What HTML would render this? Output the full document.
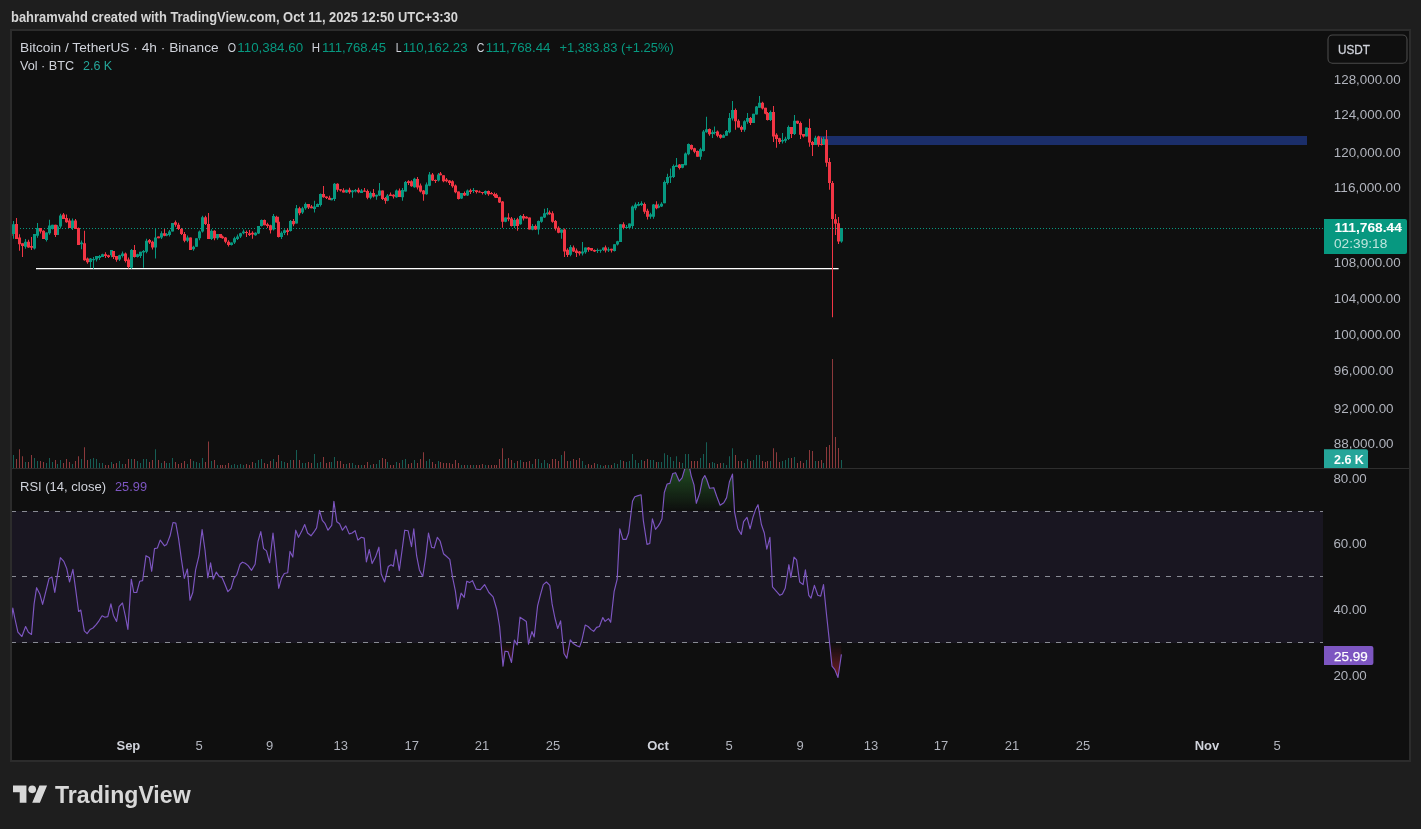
<!DOCTYPE html>
<html><head><meta charset="utf-8"><title>BTCUSDT chart</title>
<style>html,body{margin:0;padding:0;background:#1e1e1e;}svg{display:block}body{width:1421px;height:829px;overflow:hidden;font-family:"Liberation Sans",sans-serif;}</style></head>
<body>
<svg width="1421" height="829" viewBox="0 0 1421 829" font-family="'Liberation Sans', sans-serif">
<defs><linearGradient id="gob" x1="0" y1="468" x2="0" y2="511.5" gradientUnits="userSpaceOnUse"><stop offset="0" stop-color="#2e7d32" stop-opacity="0.55"/><stop offset="1" stop-color="#2e7d32" stop-opacity="0"/></linearGradient><linearGradient id="gos" x1="0" y1="642.5" x2="0" y2="680" gradientUnits="userSpaceOnUse"><stop offset="0" stop-color="#b22833" stop-opacity="0"/><stop offset="1" stop-color="#d32f3f" stop-opacity="0.6"/></linearGradient><clipPath id="cob"><rect x="11" y="469" width="1312" height="42.5"/></clipPath><clipPath id="cos"><rect x="11" y="642.5" width="1312" height="80"/></clipPath><clipPath id="cmain"><rect x="12" y="31" width="1312" height="437"/></clipPath><clipPath id="crsi"><rect x="12" y="469" width="1311" height="260"/></clipPath></defs>
<rect width="1421" height="829" fill="#1e1e1e"/>
<rect x="11" y="30" width="1399" height="731" fill="#0f0f0f" stroke="#2c2c2c" stroke-width="2"/>
<rect x="12" y="468" width="1397" height="1" fill="#2e2e2e"/>
<g opacity="0.999">
<text x="11" y="22" font-size="14" fill="#d6d6d6" textLength="447" lengthAdjust="spacingAndGlyphs" font-weight="bold">bahramvahd created with TradingView.com, Oct 11, 2025 12:50 UTC+3:30</text>
<g clip-path="url(#cmain)">
<rect x="818" y="136" width="489" height="9" fill="#1c2f6b"/>
<line x1="11" y1="228.5" x2="1324" y2="228.5" stroke="#089981" stroke-width="1" stroke-dasharray="1 2"/>
<path d="M13 455.1h1V468h-1zM25 462.1h1V468h-1zM34 458.1h1V468h-1zM37 461.1h1V468h-1zM46 463h1V468h-1zM49 458.1h1V468h-1zM52 462.1h1V468h-1zM57 464h1V468h-1zM60 460h1V468h-1zM72 464h1V468h-1zM81 459.1h1V468h-1zM90 459.1h1V468h-1zM93 458.1h1V468h-1zM96 459.1h1V468h-1zM99 463h1V468h-1zM102 463h1V468h-1zM111 462.1h1V468h-1zM119 461.1h1V468h-1zM122 464h1V468h-1zM131 459.1h1V468h-1zM137 461.1h1V468h-1zM140 463h1V468h-1zM143 459.1h1V468h-1zM146 459.1h1V468h-1zM155 449.2h1V468h-1zM161 463h1V468h-1zM166 463h1V468h-1zM169 463h1V468h-1zM172 458.1h1V468h-1zM187 464h1V468h-1zM193 461.1h1V468h-1zM196 462.1h1V468h-1zM199 463h1V468h-1zM202 458.1h1V468h-1zM211 461.1h1V468h-1zM217 465h1V468h-1zM231 465h1V468h-1zM234 464h1V468h-1zM237 465h1V468h-1zM240 464h1V468h-1zM243 465h1V468h-1zM255 463h1V468h-1zM258 460h1V468h-1zM261 459.1h1V468h-1zM273 459.1h1V468h-1zM281 461.1h1V468h-1zM284 462.1h1V468h-1zM290 460h1V468h-1zM296 450h1V468h-1zM302 463h1V468h-1zM305 463h1V468h-1zM314 454.1h1V468h-1zM317 463h1V468h-1zM320 462.1h1V468h-1zM331 462.1h1V468h-1zM334 457.1h1V468h-1zM346 464h1V468h-1zM352 463h1V468h-1zM355 465h1V468h-1zM361 465h1V468h-1zM370 465h1V468h-1zM376 464h1V468h-1zM379 460h1V468h-1zM387 462.1h1V468h-1zM396 462.1h1V468h-1zM402 460h1V468h-1zM405 459.1h1V468h-1zM414 460h1V468h-1zM426 461.1h1V468h-1zM429 459.1h1V468h-1zM438 461.1h1V468h-1zM461 465h1V468h-1zM467 465h1V468h-1zM473 465h1V468h-1zM485 465h1V468h-1zM505 459.1h1V468h-1zM514 463h1V468h-1zM520 460h1V468h-1zM532 464h1V468h-1zM538 459.1h1V468h-1zM541 463h1V468h-1zM544 460h1V468h-1zM547 463h1V468h-1zM561 455.1h1V468h-1zM570 461.1h1V468h-1zM582 461.1h1V468h-1zM585 465h1V468h-1zM597 464h1V468h-1zM600 465h1V468h-1zM603 465.9h1V468h-1zM608 465h1V468h-1zM614 463h1V468h-1zM617 464h1V468h-1zM620 460h1V468h-1zM626 462.1h1V468h-1zM629 461.1h1V468h-1zM632 454.1h1V468h-1zM635 460h1V468h-1zM638 463h1V468h-1zM641 460h1V468h-1zM650 460h1V468h-1zM653 460h1V468h-1zM658 462.1h1V468h-1zM661 462.1h1V468h-1zM664 453.2h1V468h-1zM667 455.1h1V468h-1zM670 457.1h1V468h-1zM673 461.1h1V468h-1zM676 456.2h1V468h-1zM682 463h1V468h-1zM685 454.1h1V468h-1zM688 454.1h1V468h-1zM700 458.1h1V468h-1zM703 454.1h1V468h-1zM706 442.3h1V468h-1zM712 462.1h1V468h-1zM714 463h1V468h-1zM723 463h1V468h-1zM726 465h1V468h-1zM729 456.2h1V468h-1zM732 448.2h1V468h-1zM744 463h1V468h-1zM747 459.1h1V468h-1zM753 460h1V468h-1zM756 455.1h1V468h-1zM759 455.1h1V468h-1zM770 461.1h1V468h-1zM782 461.1h1V468h-1zM785 460h1V468h-1zM788 458.1h1V468h-1zM794 457.1h1V468h-1zM806 460h1V468h-1zM815 461h1V468h-1zM823 463h1V468h-1zM841 460h1V468h-1z" fill="#175e55"/>
<path d="M10 461.2h1V468h-1zM16 459.1h1V468h-1zM19 449.2h1V468h-1zM22 456.2h1V468h-1zM28 462.1h1V468h-1zM31 455.1h1V468h-1zM40 461.1h1V468h-1zM43 462.1h1V468h-1zM55 460h1V468h-1zM63 463h1V468h-1zM66 459.1h1V468h-1zM69 462.1h1V468h-1zM75 461.1h1V468h-1zM78 456.2h1V468h-1zM84 447.3h1V468h-1zM87 460h1V468h-1zM105 465h1V468h-1zM108 465h1V468h-1zM113 464h1V468h-1zM116 463h1V468h-1zM125 464h1V468h-1zM128 459.1h1V468h-1zM134 459.1h1V468h-1zM149 462.1h1V468h-1zM152 460h1V468h-1zM158 460h1V468h-1zM164 461.1h1V468h-1zM175 462.1h1V468h-1zM178 464h1V468h-1zM181 463h1V468h-1zM184 461.1h1V468h-1zM190 459.1h1V468h-1zM205 462.1h1V468h-1zM208 441.4h1V468h-1zM214 460h1V468h-1zM220 465h1V468h-1zM222 465h1V468h-1zM225 465h1V468h-1zM228 463h1V468h-1zM246 464h1V468h-1zM249 465h1V468h-1zM252 462.1h1V468h-1zM264 463h1V468h-1zM267 464h1V468h-1zM270 461.1h1V468h-1zM276 462.1h1V468h-1zM278 455.1h1V468h-1zM287 463h1V468h-1zM293 460h1V468h-1zM299 460h1V468h-1zM308 462.1h1V468h-1zM311 463h1V468h-1zM323 457.1h1V468h-1zM326 463h1V468h-1zM329 462.1h1V468h-1zM337 461.1h1V468h-1zM340 461.1h1V468h-1zM343 464h1V468h-1zM349 463h1V468h-1zM358 465h1V468h-1zM364 465h1V468h-1zM367 462.1h1V468h-1zM373 464h1V468h-1zM382 458.1h1V468h-1zM385 459.1h1V468h-1zM390 465h1V468h-1zM393 465h1V468h-1zM399 463h1V468h-1zM408 464h1V468h-1zM411 463h1V468h-1zM417 463h1V468h-1zM420 459.1h1V468h-1zM423 452.2h1V468h-1zM432 462.1h1V468h-1zM435 464h1V468h-1zM440 462.1h1V468h-1zM443 463h1V468h-1zM446 463h1V468h-1zM449 463h1V468h-1zM452 464h1V468h-1zM455 460h1V468h-1zM458 463h1V468h-1zM464 465h1V468h-1zM470 465h1V468h-1zM476 465h1V468h-1zM479 465h1V468h-1zM482 464h1V468h-1zM488 465h1V468h-1zM491 465h1V468h-1zM494 465h1V468h-1zM496 465h1V468h-1zM499 459.1h1V468h-1zM502 448.2h1V468h-1zM508 458.1h1V468h-1zM511 460h1V468h-1zM517 461.1h1V468h-1zM523 462.1h1V468h-1zM526 462.1h1V468h-1zM529 461.1h1V468h-1zM535 459.1h1V468h-1zM549 464h1V468h-1zM552 459.1h1V468h-1zM555 459.1h1V468h-1zM558 461.1h1V468h-1zM564 451.2h1V468h-1zM567 461.1h1V468h-1zM573 459.1h1V468h-1zM576 460h1V468h-1zM579 458.1h1V468h-1zM588 464h1V468h-1zM591 465h1V468h-1zM594 463h1V468h-1zM605 465h1V468h-1zM611 465h1V468h-1zM623 461.1h1V468h-1zM644 461.1h1V468h-1zM647 459.1h1V468h-1zM656 462.1h1V468h-1zM679 462.1h1V468h-1zM691 461.1h1V468h-1zM694 461.1h1V468h-1zM697 461.1h1V468h-1zM709 463h1V468h-1zM717 464h1V468h-1zM720 463h1V468h-1zM735 455.1h1V468h-1zM738 461.1h1V468h-1zM741 461.1h1V468h-1zM750 461.1h1V468h-1zM762 461.1h1V468h-1zM765 462.1h1V468h-1zM767 461.1h1V468h-1zM773 448.2h1V468h-1zM776 452.2h1V468h-1zM779 462.1h1V468h-1zM791 458.1h1V468h-1zM797 463h1V468h-1zM800 461.1h1V468h-1zM803 463h1V468h-1zM809 450h1V468h-1zM812 451h1V468h-1zM818 461h1V468h-1zM821 460h1V468h-1zM826 447h1V468h-1zM829 445h1V468h-1zM832 359h1V468h-1zM835 437h1V468h-1zM838 448h1V468h-1z" fill="#8c3a3c"/>
<rect x="12" y="230.5" width="1" height="3.7" fill="#a52a35"/><rect x="12" y="227" width="0.6" height="9" fill="#a52a35"/>
<rect x="36" y="268" width="802.6" height="1.3" fill="#ffffff"/>
<path d="M13 220.9h1V238.8h-1zM25 239.1h1V248.7h-1zM34 234.1h1V249.4h-1zM37 223.1h1V237.7h-1zM46 232.4h1V241.5h-1zM49 219.7h1V234.7h-1zM52 224.8h1V229.5h-1zM57 225h1V234.9h-1zM60 213.8h1V228.5h-1zM72 218.5h1V230.1h-1zM81 240.5h1V249.3h-1zM90 258h1V267.8h-1zM93 257.1h1V268.7h-1zM96 256h1V261.4h-1zM99 255h1V260h-1zM102 253.8h1V256.9h-1zM111 250.1h1V257.2h-1zM119 254.7h1V260.9h-1zM122 251.5h1V257.5h-1zM131 249.1h1V268.8h-1zM137 253.8h1V257.4h-1zM140 251.8h1V258h-1zM143 249.9h1V267.8h-1zM146 238.8h1V253.3h-1zM155 228.1h1V258.5h-1zM161 231.2h1V238.9h-1zM166 233.1h1V236.2h-1zM169 230h1V236.4h-1zM172 223.1h1V231.5h-1zM187 235.4h1V242.3h-1zM193 245.7h1V250.8h-1zM196 238.3h1V246.7h-1zM199 230.5h1V240.3h-1zM202 215.7h1V232.5h-1zM211 229.2h1V240.1h-1zM217 234.1h1V239.8h-1zM231 242.5h1V245.5h-1zM234 236.8h1V244h-1zM237 234.6h1V240.1h-1zM240 232.7h1V238.1h-1zM243 229.5h1V234.2h-1zM255 232.3h1V235.8h-1zM258 226h1V234.1h-1zM261 219.6h1V226.5h-1zM273 213.9h1V230.4h-1zM281 231.3h1V239h-1zM284 229.2h1V235.1h-1zM290 219.9h1V231.6h-1zM296 204.9h1V223.5h-1zM302 206.8h1V214h-1zM305 202.6h1V209.8h-1zM314 200.7h1V212.5h-1zM317 203.6h1V206.9h-1zM320 193.4h1V206.4h-1zM331 198.1h1V200.2h-1zM334 182.9h1V201h-1zM346 189.7h1V193.1h-1zM352 190h1V197.8h-1zM355 189h1V192.4h-1zM361 189h1V193.1h-1zM370 191.6h1V199.3h-1zM376 194.8h1V199.8h-1zM379 182.9h1V196.1h-1zM387 194.1h1V201.2h-1zM396 189.5h1V197.8h-1zM402 188h1V200.7h-1zM405 181.1h1V191.4h-1zM414 177.7h1V187.7h-1zM426 182.6h1V194.8h-1zM429 172h1V186.3h-1zM438 173h1V181.4h-1zM461 193.1h1V199.1h-1zM467 189.5h1V196.1h-1zM473 188h1V193h-1zM485 190.4h1V195.1h-1zM505 217.6h1V222.3h-1zM514 218.1h1V228h-1zM520 214.9h1V224.8h-1zM532 224h1V230.2h-1zM538 220.4h1V234.5h-1zM541 216.7h1V222.8h-1zM544 208.8h1V218.1h-1zM547 207.9h1V215.2h-1zM561 229.4h1V238.7h-1zM570 245.1h1V256.2h-1zM582 242.1h1V255.4h-1zM585 247.6h1V253.7h-1zM597 248.5h1V253h-1zM600 249.7h1V252.8h-1zM603 247.6h1V251h-1zM608 247.3h1V252h-1zM614 244.3h1V251.5h-1zM617 240.7h1V245.6h-1zM620 224.3h1V242.1h-1zM626 224.9h1V228h-1zM629 223.5h1V229.2h-1zM632 205.6h1V228h-1zM635 202.4h1V210.3h-1zM638 202.1h1V206.2h-1zM641 201.2h1V205.9h-1zM650 212.7h1V218.7h-1zM653 203.9h1V218.7h-1zM658 203.7h1V208.3h-1zM661 202.2h1V207.1h-1zM664 180.6h1V203.2h-1zM667 173.7h1V184.5h-1zM670 168.6h1V183h-1zM673 164.6h1V178.1h-1zM676 158h1V166.9h-1zM682 164.1h1V168.3h-1zM685 152.4h1V165.2h-1zM688 143.6h1V155.3h-1zM700 147.7h1V159.8h-1zM703 130h1V151.4h-1zM706 116.8h1V132.8h-1zM712 130.3h1V137.9h-1zM714 126.4h1V134.5h-1zM723 134.2h1V137.7h-1zM726 130.1h1V135.7h-1zM729 112.9h1V133.3h-1zM732 101h1V120.4h-1zM744 120.3h1V131.8h-1zM747 112.9h1V123.8h-1zM753 113.7h1V123h-1zM756 106.1h1V114.6h-1zM759 96h1V107.8h-1zM770 110.5h1V121h-1zM782 133.1h1V143.6h-1zM785 136.7h1V142.8h-1zM788 125.4h1V140.1h-1zM794 115.1h1V135h-1zM806 127.6h1V136.5h-1zM815 135.7h1V145h-1zM823 137h1V144.8h-1zM841 228h1V242.8h-1z" fill="#089981"/>
<path d="M10 224.6h1V236.2h-1zM16 218h1V239.1h-1zM19 234.2h1V250.8h-1zM22 243.3h1V256.9h-1zM28 239.8h1V247.7h-1zM31 236.9h1V250.1h-1zM40 228.1h1V233.5h-1zM43 230.2h1V239.1h-1zM55 224.8h1V236.9h-1zM63 212.9h1V218.9h-1zM66 214.6h1V222.7h-1zM69 218.5h1V228.1h-1zM75 219h1V229h-1zM78 227.6h1V245h-1zM84 230.7h1V260.7h-1zM87 257.5h1V263.8h-1zM105 252.3h1V258h-1zM108 254.7h1V257.9h-1zM113 250.9h1V258.9h-1zM116 256h1V261.7h-1zM125 252.5h1V262.6h-1zM128 257.4h1V268.5h-1zM134 245h1V257.4h-1zM149 239h1V244h-1zM152 240.7h1V249.6h-1zM158 236.6h1V238.3h-1zM164 229h1V236.2h-1zM175 220.5h1V226.8h-1zM178 222.8h1V230h-1zM181 228h1V235.1h-1zM184 232.1h1V242.3h-1zM190 237.4h1V250.1h-1zM205 215.7h1V224.9h-1zM208 212.9h1V239.1h-1zM214 230.2h1V240.3h-1zM220 234.1h1V237.9h-1zM222 235.6h1V238.8h-1zM225 236.9h1V243.2h-1zM228 240.2h1V246.5h-1zM246 230.5h1V236.9h-1zM249 230h1V235.9h-1zM252 231.3h1V238.7h-1zM264 219.6h1V225.2h-1zM267 222.8h1V228h-1zM270 224.7h1V233.6h-1zM276 215.7h1V222.6h-1zM278 216.7h1V237.5h-1zM287 228.2h1V235.3h-1zM293 218.9h1V226.3h-1zM299 206.8h1V215.3h-1zM308 204.1h1V208.9h-1zM311 205.1h1V208.3h-1zM323 186h1V197.8h-1zM326 196.5h1V199.1h-1zM329 195.8h1V199.8h-1zM337 183.3h1V191.7h-1zM340 189.2h1V191.5h-1zM343 188.2h1V192.6h-1zM349 187.7h1V193.7h-1zM358 187.7h1V193.2h-1zM364 188h1V191.7h-1zM367 189.5h1V199.3h-1zM373 188.9h1V197.5h-1zM382 190.5h1V200h-1zM385 197.1h1V203.7h-1zM390 192.4h1V195.9h-1zM393 194.3h1V198.5h-1zM399 188.5h1V197h-1zM408 180.2h1V184.9h-1zM411 180.2h1V186.8h-1zM417 177.1h1V189.5h-1zM420 183.5h1V192.4h-1zM423 190h1V200.7h-1zM432 173h1V180.9h-1zM435 179.6h1V183.1h-1zM440 172h1V175.3h-1zM443 175.3h1V182.2h-1zM446 178.1h1V182.2h-1zM449 179.9h1V184.9h-1zM452 180.2h1V187.8h-1zM455 184.5h1V193.2h-1zM458 191.4h1V199.5h-1zM464 191.6h1V196.1h-1zM470 188.7h1V193.9h-1zM476 190.2h1V193.4h-1zM479 190.4h1V192.4h-1zM482 191.9h1V194.4h-1zM488 190.4h1V195.8h-1zM491 192.1h1V194.3h-1zM494 192.4h1V197.4h-1zM496 193.3h1V198.1h-1zM499 196.8h1V202.9h-1zM502 201h1V227.7h-1zM508 213.3h1V221.3h-1zM511 216.9h1V226.5h-1zM517 217.8h1V230.7h-1zM523 213.9h1V220.4h-1zM526 216.2h1V218.4h-1zM529 217.6h1V229.4h-1zM535 224.5h1V229.9h-1zM549 210.5h1V214.7h-1zM552 211.3h1V222.8h-1zM555 219.9h1V230.5h-1zM558 226.2h1V233.3h-1zM564 228.4h1V256.9h-1zM567 248.2h1V257.1h-1zM573 245.6h1V251.9h-1zM576 248.5h1V256.9h-1zM579 250.9h1V255.4h-1zM588 247.1h1V251.7h-1zM591 248h1V251h-1zM594 249.5h1V251.9h-1zM605 245.6h1V252.5h-1zM611 248.8h1V252.5h-1zM623 222.3h1V229.2h-1zM644 202.6h1V213.7h-1zM647 208.8h1V219.6h-1zM656 201.2h1V209.3h-1zM679 163.9h1V169.6h-1zM691 144.5h1V150.2h-1zM694 147.8h1V153.2h-1zM697 150.4h1V156.8h-1zM709 128.4h1V135.8h-1zM717 130.5h1V137.2h-1zM720 134.3h1V138.7h-1zM735 108.5h1V129.8h-1zM738 119.3h1V127.6h-1zM741 125.4h1V132h-1zM750 116.9h1V125h-1zM762 101.7h1V109.6h-1zM765 107.8h1V114.2h-1zM767 111.9h1V120.5h-1zM773 106.1h1V142.1h-1zM776 133.3h1V147.8h-1zM779 137.7h1V143.9h-1zM791 126.9h1V137.9h-1zM797 120.8h1V124h-1zM800 121.5h1V139.1h-1zM803 134h1V137.5h-1zM809 118.8h1V146.7h-1zM812 141.1h1V155.9h-1zM818 135.7h1V146.8h-1zM821 137.4h1V145.5h-1zM826 130h1V166.7h-1zM829 158h1V189.7h-1zM832 181h1V317.3h-1zM835 214h1V235h-1zM838 217h1V244h-1z" fill="#f23645"/>
<path d="M12 224.3h3V233.9h-3zM24 241.7h3V246.7h-3zM33 234.1h3V248.4h-3zM36 228.1h3V235.7h-3zM45 232.4h3V240h-3zM48 225.6h3V233.2h-3zM51 224.8h3V229h-3zM56 226.5h3V234.9h-3zM59 215.5h3V226.5h-3zM71 220.5h3V228.1h-3zM80 242.5h3V244.2h-3zM89 258.5h3V261.9h-3zM92 259.1h3V260.2h-3zM95 256h3V259.4h-3zM98 256h3V258h-3zM101 254.3h3V256.9h-3zM110 250.1h3V255.2h-3zM118 255.2h3V259.4h-3zM121 253.5h3V256h-3zM130 250.1h3V267.8h-3zM136 254.3h3V256.9h-3zM139 251.8h3V256h-3zM142 250.9h3V252.6h-3zM145 240.8h3V251.8h-3zM154 237.4h3V247.6h-3zM160 233.2h3V237.4h-3zM165 234.1h3V235.7h-3zM168 231.5h3V234.9h-3zM171 223.1h3V231.5h-3zM186 237.4h3V240.8h-3zM192 246.7h3V249.3h-3zM195 238.3h3V246.7h-3zM198 231.5h3V238.3h-3zM201 217.2h3V231.5h-3zM210 230.7h3V239.1h-3zM216 234.1h3V238.3h-3zM230 242.5h3V245h-3zM233 238.3h3V242.5h-3zM236 236.6h3V239.1h-3zM239 233.2h3V236.6h-3zM242 231.5h3V233.2h-3zM254 232.8h3V235.3h-3zM257 226h3V233.6h-3zM260 220.1h3V226h-3zM272 215.9h3V229.4h-3zM280 232.8h3V237h-3zM283 230.2h3V233.1h-3zM289 220.9h3V231.1h-3zM295 208.3h3V223.5h-3zM301 208.3h3V212.5h-3zM304 204.1h3V208.3h-3zM313 206.6h3V209.1h-3zM316 204.1h3V206.9h-3zM319 193.9h3V204.9h-3zM330 198.1h3V200.2h-3zM333 183.8h3V199h-3zM345 189.7h3V192.6h-3zM351 190.5h3V192.2h-3zM354 190h3V191.4h-3zM360 190.5h3V193.1h-3zM369 193.1h3V197.8h-3zM375 194.8h3V196.5h-3zM378 190.5h3V195.6h-3zM386 195.6h3V200.7h-3zM395 190.5h3V197.3h-3zM401 190h3V197.3h-3zM404 182.1h3V191.4h-3zM413 178.7h3V187.2h-3zM425 184.6h3V194.3h-3zM428 174.5h3V185.8h-3zM437 174.5h3V180.4h-3zM460 193.1h3V198.6h-3zM466 190.5h3V195.6h-3zM472 190h3V191h-3zM484 190.9h3V193.6h-3zM504 217.6h3V221.8h-3zM513 220.1h3V226h-3zM519 215.9h3V224.3h-3zM531 226h3V229.7h-3zM537 220.9h3V229.4h-3zM540 216.7h3V221.8h-3zM543 213.3h3V217.6h-3zM546 212.5h3V214.2h-3zM560 229.4h3V232.8h-3zM569 247.1h3V254.7h-3zM581 251.4h3V253.4h-3zM584 247.6h3V252.2h-3zM596 250h3V251h-3zM599 249.7h3V250.8h-3zM602 247.6h3V250h-3zM607 249.3h3V250.5h-3zM613 244.3h3V251h-3zM616 241.2h3V244.6h-3zM619 224.3h3V242.1h-3zM625 226.9h3V228h-3zM628 223.5h3V227.7h-3zM631 206.6h3V226h-3zM634 204.4h3V208.3h-3zM637 204.1h3V205.7h-3zM640 203.2h3V204.9h-3zM649 214.2h3V216.7h-3zM652 204.4h3V216.7h-3zM657 205.7h3V207.8h-3zM660 203.7h3V206.6h-3zM663 182.1h3V203.2h-3zM666 177.1h3V183h-3zM669 176.2h3V177.6h-3zM672 166.1h3V177.1h-3zM675 165.2h3V166.9h-3zM681 164.1h3V167.8h-3zM684 153.4h3V165.2h-3zM687 144.1h3V154.3h-3zM699 149.2h3V156.8h-3zM702 131.5h3V150.9h-3zM705 129.3h3V132.3h-3zM711 132.3h3V134h-3zM713 132h3V133h-3zM722 135.2h3V137.7h-3zM725 131.1h3V135.7h-3zM728 117.9h3V132.3h-3zM731 110h3V118.4h-3zM743 121.3h3V129.8h-3zM746 117.9h3V121.8h-3zM752 113.7h3V123h-3zM755 106.6h3V114.6h-3zM758 102.7h3V107.8h-3zM769 112h3V120h-3zM781 139.9h3V141.6h-3zM784 138.7h3V140.7h-3zM787 126.9h3V139.1h-3zM793 120.8h3V134h-3zM805 127.6h3V136.5h-3zM814 137.7h3V145h-3zM822 138.9h3V144.8h-3zM840 228h3V241.6h-3z" fill="#089981"/>
<path d="M9 225.6h3V235.7h-3zM15 223.9h3V239.1h-3zM18 237.4h3V244.2h-3zM21 243.3h3V245.9h-3zM27 241.7h3V247.6h-3zM30 245.9h3V247.7h-3zM39 228.1h3V231.5h-3zM42 230.7h3V239.1h-3zM54 224.8h3V234.9h-3zM62 214.6h3V218.9h-3zM65 218h3V222.2h-3zM68 220.5h3V228.1h-3zM74 220.5h3V229h-3zM77 228.1h3V245h-3zM83 243.3h3V260.2h-3zM86 258.5h3V262.3h-3zM104 254.3h3V256h-3zM107 255.2h3V256.9h-3zM112 250.9h3V256.9h-3zM115 256h3V259.7h-3zM124 253.5h3V261.1h-3zM127 259.4h3V267h-3zM133 250.1h3V256.9h-3zM148 240h3V242.5h-3zM151 241.7h3V247.6h-3zM157 236.6h3V238.3h-3zM163 233.2h3V235.7h-3zM174 222.2h3V224.8h-3zM177 224.8h3V229h-3zM180 229h3V234.1h-3zM183 234.1h3V240.8h-3zM189 237.4h3V250.1h-3zM204 217.2h3V223.9h-3zM207 223.9h3V239.1h-3zM213 230.7h3V238.3h-3zM219 234.1h3V237.4h-3zM221 236.6h3V238.3h-3zM224 237.4h3V241.7h-3zM227 241.7h3V245h-3zM245 232h3V233h-3zM248 233.2h3V234.9h-3zM251 232.8h3V234.5h-3zM263 220.1h3V225.2h-3zM266 224.3h3V226h-3zM269 225.2h3V230.2h-3zM275 216.7h3V222.6h-3zM277 221.8h3V237h-3zM286 230.2h3V231.9h-3zM292 220.9h3V224.3h-3zM298 208.3h3V213.3h-3zM307 204.1h3V207.4h-3zM310 206.6h3V208.3h-3zM322 193.9h3V197.3h-3zM325 196.5h3V198.1h-3zM328 197.8h3V199.8h-3zM336 183.8h3V189.7h-3zM339 189.2h3V190.5h-3zM342 190.2h3V192.6h-3zM348 189.7h3V192.2h-3zM357 189.7h3V192.2h-3zM363 190.5h3V191.7h-3zM366 191h3V197.8h-3zM372 193.1h3V196.5h-3zM381 190.5h3V199h-3zM384 198.1h3V200.7h-3zM389 194.4h3V195.9h-3zM392 194.8h3V196.5h-3zM398 190.5h3V197h-3zM407 181.2h3V182.9h-3zM410 181.2h3V186.3h-3zM416 179.1h3V187.5h-3zM419 185.5h3V191.4h-3zM422 190.5h3V194.3h-3zM431 174.5h3V180.4h-3zM434 180.1h3V181.1h-3zM439 173.6h3V175.3h-3zM442 175.3h3V181.2h-3zM445 179.6h3V181.2h-3zM448 180.4h3V182.9h-3zM451 181.2h3V186.3h-3zM454 185.5h3V192.2h-3zM457 191.4h3V199h-3zM463 193.1h3V195.6h-3zM469 190.2h3V191.9h-3zM475 190.2h3V191.9h-3zM478 191.4h3V192.4h-3zM481 191.9h3V192.9h-3zM487 190.9h3V194.3h-3zM490 193.1h3V194.3h-3zM493 193.9h3V195.9h-3zM495 194.8h3V198.1h-3zM498 197.3h3V202.4h-3zM501 201.5h3V221.8h-3zM507 217.6h3V219.3h-3zM510 218.4h3V226h-3zM516 219.3h3V226h-3zM522 215.9h3V218.4h-3zM525 216.7h3V218.4h-3zM528 217.6h3V229.4h-3zM534 226h3V229.4h-3zM548 212.5h3V214.2h-3zM551 213.3h3V221.8h-3zM554 220.9h3V228.5h-3zM557 227.7h3V232.8h-3zM563 229.4h3V251.4h-3zM566 249.7h3V255.1h-3zM572 247.6h3V251.4h-3zM575 250.5h3V253h-3zM578 251.4h3V253.4h-3zM587 247.6h3V249.7h-3zM590 248h3V250.5h-3zM593 250h3V251.4h-3zM604 247.6h3V250.5h-3zM610 248.8h3V250.5h-3zM622 224.3h3V227.7h-3zM643 204.1h3V211.7h-3zM646 210.8h3V216.7h-3zM655 204.4h3V208.3h-3zM678 164.4h3V168.1h-3zM690 145h3V149.2h-3zM693 148.3h3V151.7h-3zM696 150.9h3V156.8h-3zM708 128.9h3V134.3h-3zM716 131.5h3V135.7h-3zM719 134.8h3V137.7h-3zM734 110h3V121.3h-3zM737 120.8h3V127.6h-3zM740 126.9h3V129.8h-3zM749 117.9h3V123h-3zM761 102.7h3V108.6h-3zM764 107.8h3V113.7h-3zM766 112.9h3V120h-3zM772 112h3V136.5h-3zM775 134.8h3V139.1h-3zM778 138.2h3V141.9h-3zM790 126.9h3V134h-3zM796 120.8h3V123.5h-3zM799 123h3V134.8h-3zM802 134h3V136.5h-3zM808 128.1h3V142.4h-3zM811 142.1h3V145h-3zM817 136.4h3V144.8h-3zM820 144h3V145h-3zM825 139.2h3V162.8h-3zM828 162h3V183.1h-3zM831 183.1h3V219h-3zM834 219.3h3V223.8h-3zM837 223.2h3V241.6h-3z" fill="#f23645"/>
</g>
<text x="20" y="51.7" font-size="13" fill="#d1d4dc" textLength="198.7" lengthAdjust="spacingAndGlyphs">Bitcoin / TetherUS · 4h · Binance</text>
<text x="227.8" y="51.7" font-size="13" fill="#d1d4dc" textLength="8.3" lengthAdjust="spacingAndGlyphs">O</text>
<text x="237.3" y="51.7" font-size="13" fill="#089981" textLength="65.8" lengthAdjust="spacingAndGlyphs">110,384.60</text>
<text x="311.8" y="51.7" font-size="13" fill="#d1d4dc" textLength="8.3" lengthAdjust="spacingAndGlyphs">H</text>
<text x="322" y="51.7" font-size="13" fill="#089981" textLength="64" lengthAdjust="spacingAndGlyphs">111,768.45</text>
<text x="395.7" y="51.7" font-size="13" fill="#d1d4dc" textLength="5.8" lengthAdjust="spacingAndGlyphs">L</text>
<text x="402.7" y="51.7" font-size="13" fill="#089981" textLength="64.8" lengthAdjust="spacingAndGlyphs">110,162.23</text>
<text x="476.8" y="51.7" font-size="13" fill="#d1d4dc" textLength="7.6" lengthAdjust="spacingAndGlyphs">C</text>
<text x="485.8" y="51.7" font-size="13" fill="#089981" textLength="64.7" lengthAdjust="spacingAndGlyphs">111,768.44</text>
<text x="559.5" y="51.7" font-size="13" fill="#089981" textLength="114.3" lengthAdjust="spacingAndGlyphs">+1,383.83 (+1.25%)</text>
<text x="20" y="70.4" font-size="13" fill="#d1d4dc" textLength="54.1" lengthAdjust="spacingAndGlyphs">Vol · BTC</text>
<text x="83" y="70.4" font-size="13" fill="#26a69a" textLength="29.2" lengthAdjust="spacingAndGlyphs">2.6 K</text>
<rect x="1328" y="35" width="79" height="28.3" rx="4.5" fill="none" stroke="#4c4c4c" stroke-width="1.1"/>
<text x="1338" y="53.8" font-size="13.6" fill="#d1d4dc" textLength="32" lengthAdjust="spacingAndGlyphs" stroke="#d1d4dc" stroke-width="0.3">USDT</text>
<text x="1333.8" y="83.7" font-size="13" fill="#b2b5be" textLength="66.9" lengthAdjust="spacingAndGlyphs">128,000.00</text>
<text x="1333.8" y="119.3" font-size="13" fill="#b2b5be" textLength="66.9" lengthAdjust="spacingAndGlyphs">124,000.00</text>
<text x="1333.8" y="156.7" font-size="13" fill="#b2b5be" textLength="66.9" lengthAdjust="spacingAndGlyphs">120,000.00</text>
<text x="1333.8" y="192.3" font-size="13" fill="#b2b5be" textLength="66.9" lengthAdjust="spacingAndGlyphs">116,000.00</text>
<text x="1333.8" y="266.8" font-size="13" fill="#b2b5be" textLength="66.9" lengthAdjust="spacingAndGlyphs">108,000.00</text>
<text x="1333.8" y="302.5" font-size="13" fill="#b2b5be" textLength="66.9" lengthAdjust="spacingAndGlyphs">104,000.00</text>
<text x="1333.8" y="339.4" font-size="13" fill="#b2b5be" textLength="66.9" lengthAdjust="spacingAndGlyphs">100,000.00</text>
<text x="1333.8" y="375.2" font-size="13" fill="#b2b5be" textLength="59.8" lengthAdjust="spacingAndGlyphs">96,000.00</text>
<text x="1333.8" y="412.5" font-size="13" fill="#b2b5be" textLength="59.8" lengthAdjust="spacingAndGlyphs">92,000.00</text>
<text x="1333.8" y="448.3" font-size="13" fill="#b2b5be" textLength="59.8" lengthAdjust="spacingAndGlyphs">88,000.00</text>
<path d="M1324 219h81a2 2 0 0 1 2 2v31a2 2 0 0 1 -2 2h-81z" fill="#089981"/>
<text x="1334.5" y="231.8" font-size="13" fill="#ffffff" textLength="67.3" lengthAdjust="spacingAndGlyphs" font-weight="bold">111,768.44</text>
<rect x="1386" y="227.2" width="16" height="0.7" fill="#ffffff" opacity="0.85"/>
<text x="1334" y="247.6" font-size="13" fill="#bfe6de" textLength="53.3" lengthAdjust="spacingAndGlyphs">02:39:18</text>
<path d="M1324 449.2h42a2 2 0 0 1 2 2v16.8h-44z" fill="#26a69a"/>
<text x="1334" y="463.8" font-size="13" fill="#ffffff" textLength="29.9" lengthAdjust="spacingAndGlyphs" font-weight="bold">2.6 K</text>
<rect x="12" y="511" width="1311" height="132" fill="#1a1722"/>
<line x1="12" y1="511.5" x2="1323" y2="511.5" stroke="#8a8c95" stroke-width="1" stroke-dasharray="5.4 5.6" stroke-dashoffset="1.25" shape-rendering="crispEdges"/>
<line x1="12" y1="576.5" x2="1323" y2="576.5" stroke="#8a8c95" stroke-width="1" stroke-dasharray="5.4 5.6" stroke-dashoffset="1.25" shape-rendering="crispEdges"/>
<line x1="12" y1="642.5" x2="1323" y2="642.5" stroke="#8a8c95" stroke-width="1" stroke-dasharray="5.4 5.6" stroke-dashoffset="1.25" shape-rendering="crispEdges"/>
<g clip-path="url(#crsi)">
<path d="M10 511.5 L10 632.2 L12.8 608.1 L15.1 619.5 L17.9 632.2 L21.9 636.5 L25.6 626.5 L28.4 632.2 L31.5 634.5 L34.1 603.9 L36.6 587.7 L39.8 593.9 L42.6 604.4 L46.3 589.7 L49.1 578.4 L51.9 576.9 L54.8 592.5 L57.6 574.1 L60.4 557.7 L63.8 561.4 L66.7 568.4 L69.5 582 L72.9 569.3 L75.7 589.7 L78.6 611.5 L80.8 610.1 L84.3 630.8 L87.1 633.6 L90.2 629.4 L93 628 L96.4 624.3 L99.3 620.3 L102.1 615.8 L104.9 617.2 L107.8 616.6 L110.9 603.9 L113.4 615.2 L116.6 621.4 L119.1 606.7 L122.5 603 L125.3 615.8 L127.9 629.4 L131.3 579.2 L133.8 592.5 L136.7 592.5 L139.8 581.2 L142.6 580.6 L146 555.7 L149.4 557.7 L151.7 571.3 L154.5 548.6 L157.4 548 L160.2 540.1 L164.5 545.8 L166.7 544.4 L170.1 535.8 L173 522.5 L175.8 523.1 L178.6 538.7 L181.5 559.9 L184.3 578.4 L187.4 569 L190 600.2 L192.8 592.5 L195.6 569.9 L199 555.7 L202.1 529.6 L205 550 L207.8 577.8 L210.6 562.8 L213.2 579.2 L216.3 572.1 L219.1 576.4 L222 577.5 L224.8 584 L227.9 591.7 L231.1 588.3 L233.9 578.4 L236.7 575 L240.1 564.2 L242.4 562.2 L245.2 563.3 L248.1 565.6 L251.5 570.4 L255.1 564.2 L258 541.5 L260.8 531.6 L263.6 548.6 L266.5 550.9 L269.6 562.8 L273 533 L275.8 558.5 L278.7 588.3 L281.5 578.4 L284.3 573.5 L287.7 572.7 L290 551.4 L292.8 557.1 L295.7 530.2 L298.5 537.3 L301.9 530.7 L304.7 524.5 L307.6 533 L311 535.8 L313.8 532.2 L316.6 527.9 L319.5 510.3 L322.3 520.3 L325.1 523.7 L328 530.2 L331.7 525.4 L333.9 501.3 L336.8 521.7 L339.6 523.7 L342.4 530.2 L345.8 525.9 L349.2 533.9 L352.1 533 L355.1 530.7 L357.9 540.1 L361.3 537.3 L364.2 538.1 L366.4 561.9 L369.3 549.5 L372.1 563.6 L375.5 557.1 L378.9 547.2 L381.2 574.1 L384.6 582 L388.3 566.5 L391.1 564.8 L393.4 566.2 L395.9 549.5 L399.3 570.7 L402.1 550 L404.7 530.2 L408.1 530.7 L411.5 546.6 L413.8 528.8 L416.6 555.7 L419.4 569.9 L422.8 576.4 L425.7 557.1 L428.5 533 L431.6 547.2 L434.2 548 L437.3 537.3 L440.1 541 L443.5 553.7 L446.4 556.3 L449.8 559.4 L452.6 577.5 L455.4 591.1 L457.7 609 L461.1 593.1 L464.2 597.3 L466.8 581.2 L469.6 582.6 L472.4 580.6 L476.1 589.1 L480.4 589.7 L484.6 584.6 L488.9 592.5 L493.1 596.8 L496.8 609.5 L499.6 626.5 L503 666.2 L505 651.2 L507.9 651.5 L511.5 662.5 L514.4 640.1 L517.2 645 L520 617.2 L523.4 619.5 L526.3 621.4 L528.5 644.1 L531.9 631.6 L534.2 637 L537.6 605.8 L540.4 594.8 L543.3 584.6 L546.4 582 L549.8 585.4 L552.1 603.9 L554.9 618 L557.7 628.5 L560.6 620.9 L564 653.5 L566.8 658.3 L570.2 639.9 L573.3 643.5 L576.7 645.8 L579.6 646.9 L581.8 640.7 L585.2 625.1 L588.1 626.5 L590.9 629.4 L593.7 631.4 L596.6 627.4 L599.4 626.5 L602.8 617.5 L605.1 621.4 L608.5 618.6 L610.7 622.3 L614.1 591.7 L617.2 579.2 L619.8 528.8 L622.9 539.3 L626.3 539.3 L628.6 533 L632.5 501.3 L634.8 496.7 L638.2 495.6 L641.1 494.8 L643.3 520.3 L647 544.4 L649.8 543.5 L652.4 518.8 L655.5 529.3 L658.3 525.9 L660 523.1 L662 518.8 L664.3 492.5 L667.1 484 L669.9 483.4 L672.8 473.5 L675.6 472.7 L679.3 481.2 L682.1 477.8 L684.7 469 L687.2 463.3 L689.8 469 L691.2 475.8 L694 484.8 L696.3 503.3 L699.7 493.3 L702.5 479.2 L704.8 475.5 L706.8 479.7 L709.6 488.2 L713.8 487.7 L716.7 496.2 L720.1 505.2 L723.8 502.7 L726.6 497.6 L729.4 482 L732.5 474.1 L734.5 511.8 L737.9 528.8 L741.3 534.4 L743.6 521.7 L747 517.4 L750.1 528.8 L752.9 517.4 L755.8 508.9 L758 504.7 L761.4 524.5 L764.3 533 L766.8 549.2 L769.9 537.3 L772.5 586.8 L776.2 591.1 L779.9 595.3 L782.4 593.9 L785.2 588.3 L788.9 564.7 L790.9 577.5 L794 557.1 L796.6 559.9 L799.7 582 L803.1 584.6 L805.4 569.8 L808.8 595.3 L811 598.2 L814.4 585.4 L817.8 595.3 L820.7 596.2 L823.5 584.6 L826.6 615.2 L829.5 642.1 L832 666.2 L834.8 669.6 L838 677.5 L841.4 654.3 L841.4 511.5 Z" fill="url(#gob)" clip-path="url(#cob)"/>
<path d="M10 642.5 L10 632.2 L12.8 608.1 L15.1 619.5 L17.9 632.2 L21.9 636.5 L25.6 626.5 L28.4 632.2 L31.5 634.5 L34.1 603.9 L36.6 587.7 L39.8 593.9 L42.6 604.4 L46.3 589.7 L49.1 578.4 L51.9 576.9 L54.8 592.5 L57.6 574.1 L60.4 557.7 L63.8 561.4 L66.7 568.4 L69.5 582 L72.9 569.3 L75.7 589.7 L78.6 611.5 L80.8 610.1 L84.3 630.8 L87.1 633.6 L90.2 629.4 L93 628 L96.4 624.3 L99.3 620.3 L102.1 615.8 L104.9 617.2 L107.8 616.6 L110.9 603.9 L113.4 615.2 L116.6 621.4 L119.1 606.7 L122.5 603 L125.3 615.8 L127.9 629.4 L131.3 579.2 L133.8 592.5 L136.7 592.5 L139.8 581.2 L142.6 580.6 L146 555.7 L149.4 557.7 L151.7 571.3 L154.5 548.6 L157.4 548 L160.2 540.1 L164.5 545.8 L166.7 544.4 L170.1 535.8 L173 522.5 L175.8 523.1 L178.6 538.7 L181.5 559.9 L184.3 578.4 L187.4 569 L190 600.2 L192.8 592.5 L195.6 569.9 L199 555.7 L202.1 529.6 L205 550 L207.8 577.8 L210.6 562.8 L213.2 579.2 L216.3 572.1 L219.1 576.4 L222 577.5 L224.8 584 L227.9 591.7 L231.1 588.3 L233.9 578.4 L236.7 575 L240.1 564.2 L242.4 562.2 L245.2 563.3 L248.1 565.6 L251.5 570.4 L255.1 564.2 L258 541.5 L260.8 531.6 L263.6 548.6 L266.5 550.9 L269.6 562.8 L273 533 L275.8 558.5 L278.7 588.3 L281.5 578.4 L284.3 573.5 L287.7 572.7 L290 551.4 L292.8 557.1 L295.7 530.2 L298.5 537.3 L301.9 530.7 L304.7 524.5 L307.6 533 L311 535.8 L313.8 532.2 L316.6 527.9 L319.5 510.3 L322.3 520.3 L325.1 523.7 L328 530.2 L331.7 525.4 L333.9 501.3 L336.8 521.7 L339.6 523.7 L342.4 530.2 L345.8 525.9 L349.2 533.9 L352.1 533 L355.1 530.7 L357.9 540.1 L361.3 537.3 L364.2 538.1 L366.4 561.9 L369.3 549.5 L372.1 563.6 L375.5 557.1 L378.9 547.2 L381.2 574.1 L384.6 582 L388.3 566.5 L391.1 564.8 L393.4 566.2 L395.9 549.5 L399.3 570.7 L402.1 550 L404.7 530.2 L408.1 530.7 L411.5 546.6 L413.8 528.8 L416.6 555.7 L419.4 569.9 L422.8 576.4 L425.7 557.1 L428.5 533 L431.6 547.2 L434.2 548 L437.3 537.3 L440.1 541 L443.5 553.7 L446.4 556.3 L449.8 559.4 L452.6 577.5 L455.4 591.1 L457.7 609 L461.1 593.1 L464.2 597.3 L466.8 581.2 L469.6 582.6 L472.4 580.6 L476.1 589.1 L480.4 589.7 L484.6 584.6 L488.9 592.5 L493.1 596.8 L496.8 609.5 L499.6 626.5 L503 666.2 L505 651.2 L507.9 651.5 L511.5 662.5 L514.4 640.1 L517.2 645 L520 617.2 L523.4 619.5 L526.3 621.4 L528.5 644.1 L531.9 631.6 L534.2 637 L537.6 605.8 L540.4 594.8 L543.3 584.6 L546.4 582 L549.8 585.4 L552.1 603.9 L554.9 618 L557.7 628.5 L560.6 620.9 L564 653.5 L566.8 658.3 L570.2 639.9 L573.3 643.5 L576.7 645.8 L579.6 646.9 L581.8 640.7 L585.2 625.1 L588.1 626.5 L590.9 629.4 L593.7 631.4 L596.6 627.4 L599.4 626.5 L602.8 617.5 L605.1 621.4 L608.5 618.6 L610.7 622.3 L614.1 591.7 L617.2 579.2 L619.8 528.8 L622.9 539.3 L626.3 539.3 L628.6 533 L632.5 501.3 L634.8 496.7 L638.2 495.6 L641.1 494.8 L643.3 520.3 L647 544.4 L649.8 543.5 L652.4 518.8 L655.5 529.3 L658.3 525.9 L660 523.1 L662 518.8 L664.3 492.5 L667.1 484 L669.9 483.4 L672.8 473.5 L675.6 472.7 L679.3 481.2 L682.1 477.8 L684.7 469 L687.2 463.3 L689.8 469 L691.2 475.8 L694 484.8 L696.3 503.3 L699.7 493.3 L702.5 479.2 L704.8 475.5 L706.8 479.7 L709.6 488.2 L713.8 487.7 L716.7 496.2 L720.1 505.2 L723.8 502.7 L726.6 497.6 L729.4 482 L732.5 474.1 L734.5 511.8 L737.9 528.8 L741.3 534.4 L743.6 521.7 L747 517.4 L750.1 528.8 L752.9 517.4 L755.8 508.9 L758 504.7 L761.4 524.5 L764.3 533 L766.8 549.2 L769.9 537.3 L772.5 586.8 L776.2 591.1 L779.9 595.3 L782.4 593.9 L785.2 588.3 L788.9 564.7 L790.9 577.5 L794 557.1 L796.6 559.9 L799.7 582 L803.1 584.6 L805.4 569.8 L808.8 595.3 L811 598.2 L814.4 585.4 L817.8 595.3 L820.7 596.2 L823.5 584.6 L826.6 615.2 L829.5 642.1 L832 666.2 L834.8 669.6 L838 677.5 L841.4 654.3 L841.4 642.5 Z" fill="url(#gos)" clip-path="url(#cos)"/>
<path d="M10 632.2 L12.8 608.1 L15.1 619.5 L17.9 632.2 L21.9 636.5 L25.6 626.5 L28.4 632.2 L31.5 634.5 L34.1 603.9 L36.6 587.7 L39.8 593.9 L42.6 604.4 L46.3 589.7 L49.1 578.4 L51.9 576.9 L54.8 592.5 L57.6 574.1 L60.4 557.7 L63.8 561.4 L66.7 568.4 L69.5 582 L72.9 569.3 L75.7 589.7 L78.6 611.5 L80.8 610.1 L84.3 630.8 L87.1 633.6 L90.2 629.4 L93 628 L96.4 624.3 L99.3 620.3 L102.1 615.8 L104.9 617.2 L107.8 616.6 L110.9 603.9 L113.4 615.2 L116.6 621.4 L119.1 606.7 L122.5 603 L125.3 615.8 L127.9 629.4 L131.3 579.2 L133.8 592.5 L136.7 592.5 L139.8 581.2 L142.6 580.6 L146 555.7 L149.4 557.7 L151.7 571.3 L154.5 548.6 L157.4 548 L160.2 540.1 L164.5 545.8 L166.7 544.4 L170.1 535.8 L173 522.5 L175.8 523.1 L178.6 538.7 L181.5 559.9 L184.3 578.4 L187.4 569 L190 600.2 L192.8 592.5 L195.6 569.9 L199 555.7 L202.1 529.6 L205 550 L207.8 577.8 L210.6 562.8 L213.2 579.2 L216.3 572.1 L219.1 576.4 L222 577.5 L224.8 584 L227.9 591.7 L231.1 588.3 L233.9 578.4 L236.7 575 L240.1 564.2 L242.4 562.2 L245.2 563.3 L248.1 565.6 L251.5 570.4 L255.1 564.2 L258 541.5 L260.8 531.6 L263.6 548.6 L266.5 550.9 L269.6 562.8 L273 533 L275.8 558.5 L278.7 588.3 L281.5 578.4 L284.3 573.5 L287.7 572.7 L290 551.4 L292.8 557.1 L295.7 530.2 L298.5 537.3 L301.9 530.7 L304.7 524.5 L307.6 533 L311 535.8 L313.8 532.2 L316.6 527.9 L319.5 510.3 L322.3 520.3 L325.1 523.7 L328 530.2 L331.7 525.4 L333.9 501.3 L336.8 521.7 L339.6 523.7 L342.4 530.2 L345.8 525.9 L349.2 533.9 L352.1 533 L355.1 530.7 L357.9 540.1 L361.3 537.3 L364.2 538.1 L366.4 561.9 L369.3 549.5 L372.1 563.6 L375.5 557.1 L378.9 547.2 L381.2 574.1 L384.6 582 L388.3 566.5 L391.1 564.8 L393.4 566.2 L395.9 549.5 L399.3 570.7 L402.1 550 L404.7 530.2 L408.1 530.7 L411.5 546.6 L413.8 528.8 L416.6 555.7 L419.4 569.9 L422.8 576.4 L425.7 557.1 L428.5 533 L431.6 547.2 L434.2 548 L437.3 537.3 L440.1 541 L443.5 553.7 L446.4 556.3 L449.8 559.4 L452.6 577.5 L455.4 591.1 L457.7 609 L461.1 593.1 L464.2 597.3 L466.8 581.2 L469.6 582.6 L472.4 580.6 L476.1 589.1 L480.4 589.7 L484.6 584.6 L488.9 592.5 L493.1 596.8 L496.8 609.5 L499.6 626.5 L503 666.2 L505 651.2 L507.9 651.5 L511.5 662.5 L514.4 640.1 L517.2 645 L520 617.2 L523.4 619.5 L526.3 621.4 L528.5 644.1 L531.9 631.6 L534.2 637 L537.6 605.8 L540.4 594.8 L543.3 584.6 L546.4 582 L549.8 585.4 L552.1 603.9 L554.9 618 L557.7 628.5 L560.6 620.9 L564 653.5 L566.8 658.3 L570.2 639.9 L573.3 643.5 L576.7 645.8 L579.6 646.9 L581.8 640.7 L585.2 625.1 L588.1 626.5 L590.9 629.4 L593.7 631.4 L596.6 627.4 L599.4 626.5 L602.8 617.5 L605.1 621.4 L608.5 618.6 L610.7 622.3 L614.1 591.7 L617.2 579.2 L619.8 528.8 L622.9 539.3 L626.3 539.3 L628.6 533 L632.5 501.3 L634.8 496.7 L638.2 495.6 L641.1 494.8 L643.3 520.3 L647 544.4 L649.8 543.5 L652.4 518.8 L655.5 529.3 L658.3 525.9 L660 523.1 L662 518.8 L664.3 492.5 L667.1 484 L669.9 483.4 L672.8 473.5 L675.6 472.7 L679.3 481.2 L682.1 477.8 L684.7 469 L687.2 463.3 L689.8 469 L691.2 475.8 L694 484.8 L696.3 503.3 L699.7 493.3 L702.5 479.2 L704.8 475.5 L706.8 479.7 L709.6 488.2 L713.8 487.7 L716.7 496.2 L720.1 505.2 L723.8 502.7 L726.6 497.6 L729.4 482 L732.5 474.1 L734.5 511.8 L737.9 528.8 L741.3 534.4 L743.6 521.7 L747 517.4 L750.1 528.8 L752.9 517.4 L755.8 508.9 L758 504.7 L761.4 524.5 L764.3 533 L766.8 549.2 L769.9 537.3 L772.5 586.8 L776.2 591.1 L779.9 595.3 L782.4 593.9 L785.2 588.3 L788.9 564.7 L790.9 577.5 L794 557.1 L796.6 559.9 L799.7 582 L803.1 584.6 L805.4 569.8 L808.8 595.3 L811 598.2 L814.4 585.4 L817.8 595.3 L820.7 596.2 L823.5 584.6 L826.6 615.2 L829.5 642.1 L832 666.2 L834.8 669.6 L838 677.5 L841.4 654.3" fill="none" stroke="#7e57c2" stroke-width="1.15" stroke-linejoin="round"/>
</g>
<text x="20" y="490.5" font-size="13" fill="#d1d4dc" textLength="86" lengthAdjust="spacingAndGlyphs">RSI (14, close)</text>
<text x="115" y="490.5" font-size="13" fill="#7e57c2" textLength="32" lengthAdjust="spacingAndGlyphs">25.99</text>
<text x="1333.4" y="482.5" font-size="13" fill="#b2b5be" textLength="33.4" lengthAdjust="spacingAndGlyphs">80.00</text>
<text x="1333.4" y="548.2" font-size="13" fill="#b2b5be" textLength="33.4" lengthAdjust="spacingAndGlyphs">60.00</text>
<text x="1333.4" y="613.8" font-size="13" fill="#b2b5be" textLength="33.4" lengthAdjust="spacingAndGlyphs">40.00</text>
<text x="1333.4" y="679.5" font-size="13" fill="#b2b5be" textLength="33.4" lengthAdjust="spacingAndGlyphs">20.00</text>
<path d="M1324 646h47.4a2 2 0 0 1 2 2v15a2 2 0 0 1 -2 2h-47.4z" fill="#7e57c2"/>
<text x="1334" y="660.7" font-size="13" fill="#ffffff" textLength="33.7" lengthAdjust="spacingAndGlyphs" stroke="#ffffff" stroke-width="0.25">25.99</text>
<text x="128.4" y="750.2" font-size="13" fill="#d1d4dc" font-weight="bold" text-anchor="middle">Sep</text>
<text x="199.2" y="750.2" font-size="13" fill="#b2b5be" text-anchor="middle">5</text>
<text x="269.6" y="750.2" font-size="13" fill="#b2b5be" text-anchor="middle">9</text>
<text x="340.7" y="750.2" font-size="13" fill="#b2b5be" text-anchor="middle">13</text>
<text x="411.7" y="750.2" font-size="13" fill="#b2b5be" text-anchor="middle">17</text>
<text x="482.1" y="750.2" font-size="13" fill="#b2b5be" text-anchor="middle">21</text>
<text x="553" y="750.2" font-size="13" fill="#b2b5be" text-anchor="middle">25</text>
<text x="658" y="750.2" font-size="13" fill="#d1d4dc" font-weight="bold" text-anchor="middle">Oct</text>
<text x="729" y="750.2" font-size="13" fill="#b2b5be" text-anchor="middle">5</text>
<text x="800" y="750.2" font-size="13" fill="#b2b5be" text-anchor="middle">9</text>
<text x="871" y="750.2" font-size="13" fill="#b2b5be" text-anchor="middle">13</text>
<text x="941" y="750.2" font-size="13" fill="#b2b5be" text-anchor="middle">17</text>
<text x="1012" y="750.2" font-size="13" fill="#b2b5be" text-anchor="middle">21</text>
<text x="1083" y="750.2" font-size="13" fill="#b2b5be" text-anchor="middle">25</text>
<text x="1207" y="750.2" font-size="13" fill="#d1d4dc" font-weight="bold" text-anchor="middle">Nov</text>
<text x="1277" y="750.2" font-size="13" fill="#b2b5be" text-anchor="middle">5</text>
<g transform="translate(13 781.68) scale(0.96)" fill="#d9d9d9"><path d="M14 22H7V11H0V4h14v18zM28 22h-8l7.5-18h8L28 22z"/><circle cx="20" cy="8" r="4"/></g>
<text x="55" y="802.8" font-size="24" fill="#d9d9d9" textLength="135.6" lengthAdjust="spacingAndGlyphs" font-weight="bold">TradingView</text>
</g>
</svg>
</body></html>
